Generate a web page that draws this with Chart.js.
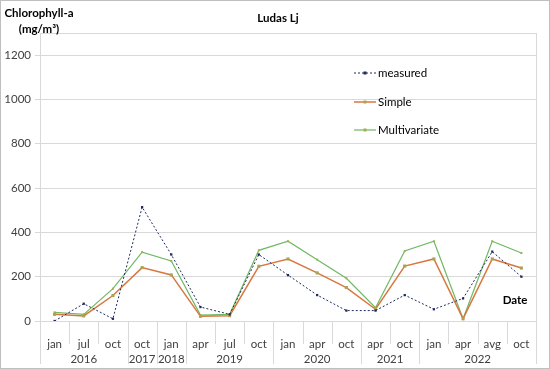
<!DOCTYPE html>
<html>
<head>
<meta charset="utf-8">
<script src="https://cdn.jsdelivr.net/npm/chart.js@4.4.0/dist/chart.umd.min.js"></script>
<style>
  html, body { margin: 0; padding: 0; background: #fff; }
  #wrap { width: 550px; height: 369px; }
</style>
</head>
<body>
<div id="wrap"><canvas id="myChart" width="550" height="369"></canvas></div>
<script>
// categories: month row and year groups
var months = ['jan','jul','oct','oct','jan','apr','jul','oct','jan','apr','oct','apr','oct','jan','apr','avg','oct'];
var years = ['2016','2017','2018','2019','2020','2021','2022'];
var yearSpans = [3, 1, 1, 3, 3, 2, 4];

// series (mg/m3)
var measured     = [0, 78, 10, 514, 300, 63, 30, 300, 207, 117, 47, 47, 117, 53, 102, 313, 200];
var simple       = [30, 23, 115, 241, 208, 21, 24, 247, 280, 217, 151, 53, 248, 280, 10, 280, 239];
var multivariate = [39, 30, 146, 311, 271, 27, 30, 319, 360, 277, 193, 60, 316, 360, 10, 360, 307];

var yTicks = [0, 200, 400, 600, 800, 1000, 1200];

var FONT = 'Lato, "Open Sans", sans-serif';
var GRID = '#d9d9d9';
var TEXT = '#404040';

var extras = {
    id: 'extras',
    afterDraw: function(chart) {
        var ctx = chart.ctx;
        var area = chart.chartArea;
        var x = chart.scales.x;
        ctx.save();

        // outer border
        ctx.strokeStyle = '#bfbfbf';
        ctx.lineWidth = 1;
        ctx.strokeRect(0.5, 0.5, 549, 368);

        // plot border
        ctx.strokeStyle = GRID;
        ctx.strokeRect(area.left + 0.5, area.top + 0.5, area.right - area.left, area.bottom - area.top);

        // category table under the axis
        var step = x.getPixelForValue(1) - x.getPixelForValue(0);
        var start = 0;
        ctx.fillStyle = TEXT;
        ctx.font = '11.5px ' + FONT;
        ctx.textAlign = 'center';
        ctx.textBaseline = 'middle';
        for (var i = 0; i <= months.length; i++) {
            var px = Math.round(x.getPixelForValue(i) - step / 2) + 0.5;
            ctx.beginPath();
            ctx.moveTo(px, area.bottom);
            ctx.lineTo(px, area.bottom + 23);
            ctx.stroke();
        }
        for (var k = 0; k < years.length; k++) {
            var l = x.getPixelForValue(start) - step / 2;
            var r = x.getPixelForValue(start + yearSpans[k] - 1) + step / 2;
            ctx.beginPath();
            ctx.moveTo(Math.round(l) + 0.5, area.bottom);
            ctx.lineTo(Math.round(l) + 0.5, area.bottom + 43);
            ctx.moveTo(Math.round(r) + 0.5, area.bottom);
            ctx.lineTo(Math.round(r) + 0.5, area.bottom + 43);
            ctx.stroke();
            ctx.fillText(years[k], (l + r) / 2, area.bottom + 38);
            start += yearSpans[k];
        }

        // titles
        ctx.fillStyle = '#000';
        ctx.font = 'bold 11.5px ' + FONT;
        ctx.fillText('Ludas Lj', 278, 18);
        ctx.fillText('Chlorophyll-a', 39, 13);
        ctx.fillText('(mg/m\u00B3)', 39, 29);
        ctx.fillText('Date', 515, 300);

        // legend
        var rows = [73, 102, 130];
        ctx.font = '11.5px ' + FONT;
        ctx.textAlign = 'left';
        chart.data.datasets.forEach(function(ds, j) {
            var yy = rows[j];
            ctx.strokeStyle = ds.borderColor;
            ctx.lineWidth = ds.borderWidth;
            ctx.setLineDash(ds.borderDash || []);
            ctx.beginPath();
            ctx.moveTo(354, yy);
            ctx.lineTo(376, yy);
            ctx.stroke();
            ctx.setLineDash([]);
            ctx.fillStyle = ds.pointBackgroundColor;
            ctx.fillRect(365 - 1.5, yy - 1.5, 3, 3);
            ctx.fillStyle = '#000';
            ctx.fillText(ds.label, 378, yy);
        });
        ctx.restore();
    }
};

var ctx = document.getElementById('myChart').getContext('2d');
var chart = new Chart(ctx, {
    type: 'line',
    data: {
        labels: months,
        datasets: [{
            label: 'measured',
            data: measured,
            borderColor: '#1f2a5e',
            borderWidth: 1,
            borderDash: [2, 2],
            pointStyle: 'rect',
            pointRadius: 1.6,
            pointBackgroundColor: '#1f2a5e',
            pointBorderWidth: 0
        }, {
            label: 'Simple',
            data: simple,
            borderColor: '#d8773f',
            borderWidth: 1.5,
            pointStyle: 'rect',
            pointRadius: 2.2,
            pointBackgroundColor: '#a9a454',
            pointBorderWidth: 0
        }, {
            label: 'Multivariate',
            data: multivariate,
            borderColor: '#70b865',
            borderWidth: 1.2,
            pointStyle: 'rect',
            pointRadius: 1.4,
            pointBackgroundColor: '#a0b04c',
            pointBorderWidth: 0
        }]
    },
    options: {
        responsive: false,
        animation: false,
        layout: { padding: { top: 33, right: 14, left: 0, bottom: 0 } },
        plugins: {
            legend: { display: false },
            title: { display: false },
            tooltip: { enabled: false }
        },
        scales: {
            x: {
                offset: true,
                grid: { display: false },
                border: { display: false },
                ticks: {
                    color: TEXT,
                    font: { family: FONT, size: 11.5 },
                    padding: 8,
                    maxRotation: 0,
                    autoSkip: false
                },
                afterFit: function(scale) { scale.height = 48; }
            },
            y: {
                min: 0,
                max: 1300,
                afterBuildTicks: function(scale) {
                    scale.ticks = yTicks.map(function(v) { return { value: v }; });
                },
                grid: {
                    color: GRID,
                    tickLength: 5,
                    drawTicks: true
                },
                border: { display: false },
                ticks: {
                    color: TEXT,
                    font: { family: FONT, size: 11.5 },
                    padding: 4,
                    callback: function(v) { return String(v); }
                },
                afterFit: function(scale) { scale.width = 40; }
            }
        }
    },
    plugins: [extras]
});
</script>
</body>
</html>
